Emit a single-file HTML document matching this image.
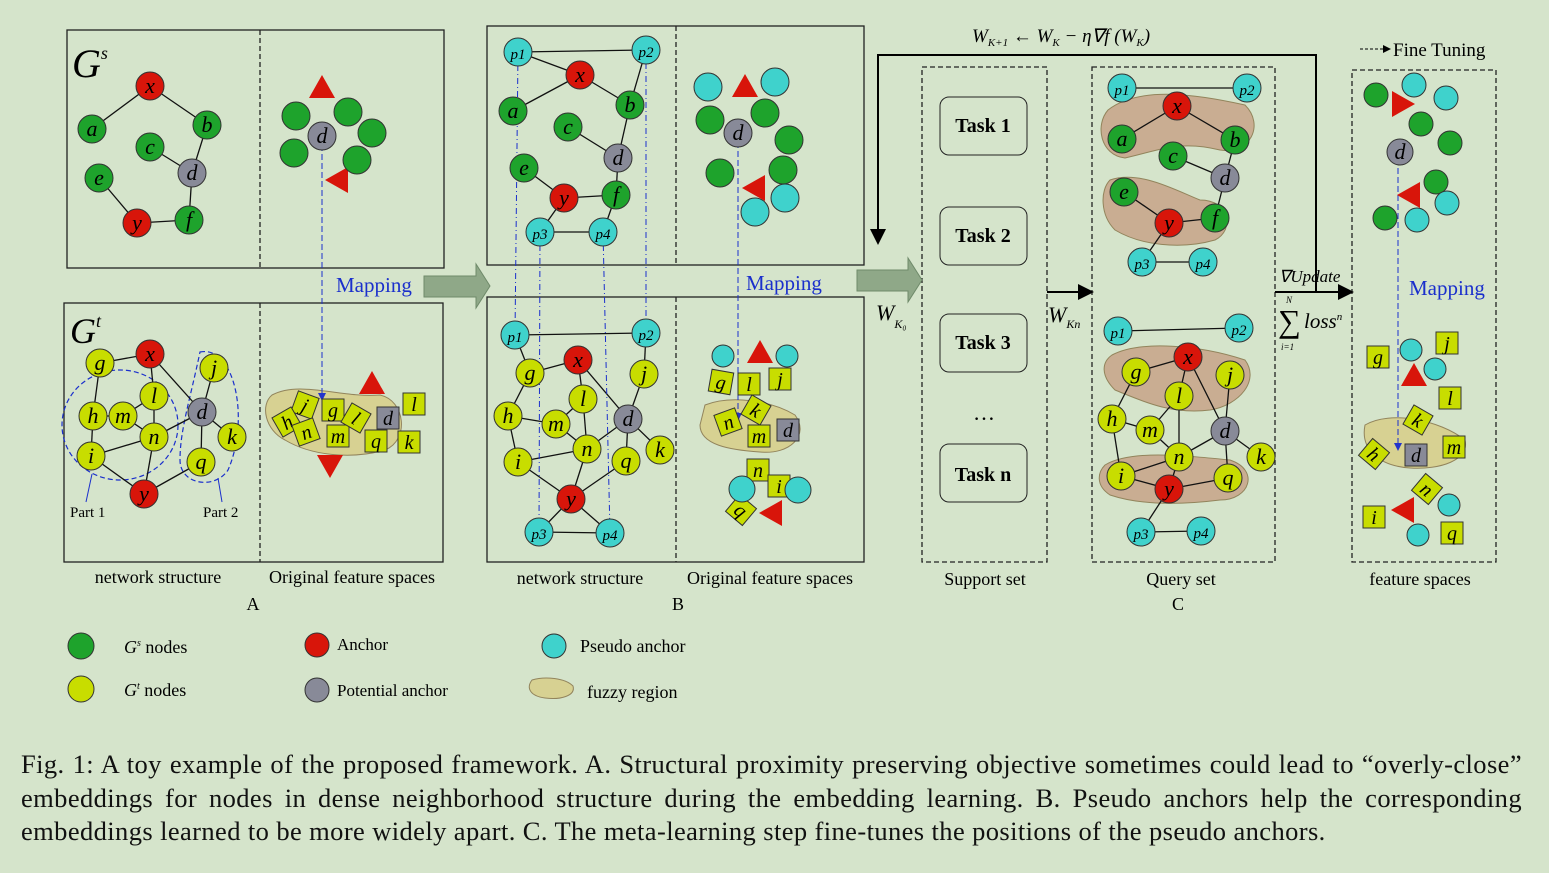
<!DOCTYPE html>
<html><head><meta charset="utf-8">
<style>
html,body{margin:0;padding:0;background:#d5e4cb;}
svg{display:block;font-family:"Liberation Serif",serif;}
.cap{position:absolute;left:21px;width:1501px;font-family:"Liberation Serif",serif;font-size:26.5px;letter-spacing:0.4px;color:#111;line-height:33.5px;top:748px;}
.cap div{text-align:justify;text-align-last:justify;white-space:nowrap;}
.cap div.last{text-align-last:left;}
</style></head>
<body>
<div style="position:relative;width:1549px;height:873px;overflow:hidden;background:#d5e4cb">
<svg id="s" width="1549" height="873" xmlns="http://www.w3.org/2000/svg">
<defs>
<marker id="ah" markerWidth="8" markerHeight="8" refX="7" refY="4" orient="auto"><path d="M0,0L8,4L0,8z" fill="#000"/></marker>
<marker id="bh" markerWidth="8" markerHeight="8" refX="7" refY="4" orient="auto"><path d="M0,0L8,4L0,8z" fill="#2233cc"/></marker>
</defs>
<g fill="none" stroke="#222" stroke-width="1.3">
<rect x="67" y="30" width="377" height="238"/>
<rect x="64" y="303" width="379" height="259"/>
<rect x="487" y="26" width="377" height="239"/>
<rect x="487" y="297" width="377" height="265"/>
<g stroke-dasharray="5,3">
<line x1="260" y1="30" x2="260" y2="268"/><line x1="260" y1="303" x2="260" y2="562"/>
<line x1="676" y1="26" x2="676" y2="265"/><line x1="676" y1="297" x2="676" y2="562"/>
<rect x="922" y="67" width="125" height="495"/>
<rect x="1092" y="67" width="183" height="495"/>
<rect x="1352" y="70" width="144" height="492"/>
</g>
</g>
<path d="M424,276H476V264L490,286L476,308V297H424Z" fill="#8fa888" stroke="#6f8a6a"/>
<path d="M857,270H908V258L922,280L908,302V291H857Z" fill="#8fa888" stroke="#6f8a6a"/>
<path d="M1316,292V55H878V243" fill="none" stroke="#000" stroke-width="2" marker-end="url(#ah)"/>
<line x1="1047" y1="292" x2="1092" y2="292" stroke="#000" stroke-width="2" marker-end="url(#ah)"/>
<line x1="1275" y1="292" x2="1352" y2="292" stroke="#000" stroke-width="2" marker-end="url(#ah)"/>
<line x1="1360" y1="49" x2="1390" y2="49" stroke="#000" stroke-dasharray="3,2" marker-end="url(#ah)"/>
<text x="972" y="42" font-size="19" font-style="italic">W<tspan font-size="11" dy="4">K+1</tspan><tspan dy="-4"> ← W</tspan><tspan font-size="11" dy="4">K</tspan><tspan dy="-4"> − η∇f (W</tspan><tspan font-size="11" dy="4">K</tspan><tspan dy="-4">)</tspan></text>
<text x="1393" y="56" font-size="19">Fine Tuning</text>
<text x="876" y="320" font-size="22" font-style="italic">W<tspan font-size="12" dy="8">K₀</tspan></text>
<text x="1048" y="322" font-size="22" font-style="italic">W<tspan font-size="12" dy="6">Kn</tspan></text>
<text x="1279" y="282" font-size="17" font-style="italic">∇Update</text>
<text x="1278" y="332" font-size="32">∑</text>
<text x="1286" y="303" font-size="9" font-style="italic">N</text><text x="1281" y="350" font-size="9" font-style="italic">i=1</text>
<text x="1304" y="328" font-size="21" font-style="italic">loss<tspan font-size="11" dy="-8">n</tspan></text>
<text x="336" y="292" font-size="21" fill="#1a2fcc">Mapping</text>
<text x="746" y="290" font-size="21" fill="#1a2fcc">Mapping</text>
<text x="1409" y="295" font-size="21" fill="#1a2fcc">Mapping</text>
<text x="72" y="77" font-size="40" font-style="italic">G<tspan font-size="18" dy="-18">s</tspan></text>
<text x="70" y="343" font-size="36" font-style="italic">G<tspan font-size="18" dy="-16">t</tspan></text>
<g font-size="18" text-anchor="middle">
<text x="158" y="583">network structure</text><text x="352" y="583">Original feature spaces</text><text x="253" y="610">A</text>
<text x="580" y="584">network structure</text><text x="770" y="584">Original feature spaces</text><text x="678" y="610">B</text>
<text x="985" y="585">Support set</text><text x="1181" y="585">Query set</text><text x="1178" y="610">C</text><text x="1420" y="585">feature spaces</text>
<text x="984" y="420" font-size="22">…</text>
</g>
<text x="70" y="517" font-size="15">Part 1</text><text x="203" y="517" font-size="15">Part 2</text>
<line x1="92" y1="474" x2="86" y2="502" stroke="#1a2fcc"/><line x1="218" y1="478" x2="222" y2="502" stroke="#1a2fcc"/>
<ellipse cx="120" cy="425" rx="58" ry="55" fill="none" stroke="#1a2fcc" stroke-dasharray="5,3" stroke-width="1.2"/>
<path d="M200,352C235,345 250,420 228,470C215,490 180,485 180,460C180,430 190,400 200,352Z" fill="none" stroke="#1a2fcc" stroke-dasharray="5,3" stroke-width="1.2"/>
<g fill="#c9b98a" stroke="#8b7a50" opacity="0.9">
<path d="M272,395C300,380 340,398 380,395C405,400 410,440 385,450C350,460 310,455 285,440C265,430 260,405 272,395Z" fill="#d8d08c"/>
<path d="M705,405C730,395 770,400 795,415C810,435 790,455 760,452C730,450 700,445 700,425Z" fill="#d8d08c"/>
<path d="M1108,110C1140,85 1200,95 1245,105C1265,125 1250,155 1220,150C1180,140 1160,150 1125,158C1100,155 1095,125 1108,110Z" fill="#c8a88c"/>
<path d="M1110,180C1140,170 1175,190 1200,200C1230,200 1235,230 1215,240C1180,250 1140,245 1115,230C1100,215 1100,190 1110,180Z" fill="#c8a88c"/>
<path d="M1112,355C1140,340 1200,345 1245,360C1260,380 1240,405 1210,410C1170,415 1140,400 1115,390C1100,375 1102,362 1112,355Z" fill="#c8a88c"/>
<path d="M1105,465C1130,450 1180,455 1230,460C1260,470 1250,500 1220,500C1180,505 1140,505 1110,495C1095,485 1098,472 1105,465Z" fill="#c8a88c"/>
<path d="M1365,425C1390,410 1440,420 1465,440C1470,460 1440,470 1410,468C1380,466 1360,450 1365,425Z" fill="#d8d08c"/>
<path d="M532,680C545,676 565,678 573,686C576,696 560,700 545,698C530,696 526,688 532,680Z" fill="#d8d08c"/>
</g>
<g id="edges" stroke="#111" stroke-width="1.3"></g>
<g id="vlines" stroke="#1a2fcc" stroke-width="1" stroke-dasharray="6,3,1,3" fill="none"></g>
<g id="nodes"></g>
<g font-size="20" font-weight="bold" text-anchor="middle">
<rect x="940" y="97" width="87" height="58" rx="9" fill="none" stroke="#222"/><text x="983" y="132">Task 1</text>
<rect x="940" y="207" width="87" height="58" rx="9" fill="none" stroke="#222"/><text x="983" y="242">Task 2</text>
<rect x="940" y="314" width="87" height="58" rx="9" fill="none" stroke="#222"/><text x="983" y="349">Task 3</text>
<rect x="940" y="444" width="87" height="58" rx="9" fill="none" stroke="#222"/><text x="983" y="481">Task n</text>
</g>
<g font-size="18">
<circle cx="81" cy="646" r="13" fill="#1ea32c" stroke="#333"/><text x="124" y="653" font-style="italic">G<tspan font-size="10" dy="-7">s</tspan><tspan dy="7" font-style="normal"> nodes</tspan></text>
<circle cx="81" cy="689" r="13" fill="#c8dd00" stroke="#333"/><text x="124" y="696" font-style="italic">G<tspan font-size="10" dy="-7">t</tspan><tspan dy="7" font-style="normal"> nodes</tspan></text>
<circle cx="317" cy="645" r="12" fill="#d8150a" stroke="#333"/><text x="337" y="650" font-size="17">Anchor</text>
<circle cx="317" cy="690" r="12" fill="#888a98" stroke="#333"/><text x="337" y="696" font-size="17">Potential anchor</text>
<circle cx="554" cy="646" r="12" fill="#3fd2cc" stroke="#333"/><text x="580" y="652">Pseudo anchor</text>
<text x="587" y="698">fuzzy region</text>
</g>
</svg>
<div class="cap">
<div>Fig. 1: A toy example of the proposed framework. A. Structural proximity preserving objective sometimes could lead to “overly-close”</div>
<div>embeddings for nodes in dense neighborhood structure during the embedding learning. B. Pseudo anchors help the corresponding</div>
<div class="last">embeddings learned to be more widely apart. C. The meta-learning step fine-tunes the positions of the pseudo anchors.</div>
</div>
</div>
<script>
const NS="http://www.w3.org/2000/svg";
const C={G:"#1ea32c",T:"#c8dd00",R:"#d8150a",D:"#888a98",P:"#3fd2cc"};
const nodes=document.getElementById('nodes'),edges=document.getElementById('edges'),vl=document.getElementById('vlines');
function circ(x,y,t,l,r){r=r||14;
 const c=document.createElementNS(NS,'circle');c.setAttribute('cx',x);c.setAttribute('cy',y);c.setAttribute('r',r);c.setAttribute('fill',C[t]);c.setAttribute('stroke','#333');
 
 
 nodes.appendChild(c);
 if(l){const s=document.createElementNS(NS,'text');s.setAttribute('x',x);s.setAttribute('y',y+7);s.setAttribute('text-anchor','middle');s.setAttribute('font-style','italic');s.setAttribute('font-size',l.length>1?15:22);s.textContent=l;nodes.appendChild(s);}}
function sq(x,y,l,rot){const g=document.createElementNS(NS,'g');g.setAttribute('transform','translate('+x+','+y+') rotate('+(rot||0)+')');
 
 
 g.innerHTML='<rect x="-11" y="-11" width="22" height="22" fill="'+(l=='d'?C.D:C.T)+'" stroke="#333"/><text y="7" text-anchor="middle" font-size="20" font-style="italic">'+l+'</text>';nodes.appendChild(g);}
function tri(x,y,rot){const p=document.createElementNS(NS,'polygon');p.setAttribute('points',(x-13)+','+(y+10)+' '+(x+13)+','+(y+10)+' '+x+','+(y-13));p.setAttribute('fill','#d8150a');p.setAttribute('transform','rotate('+(rot||0)+' '+x+' '+y+')');
 
 
 nodes.appendChild(p);}
function graph(N,E){for(const [a,b] of E){const l=document.createElementNS(NS,'line');l.setAttribute('x1',N[a][0]);l.setAttribute('y1',N[a][1]);l.setAttribute('x2',N[b][0]);l.setAttribute('y2',N[b][1]);edges.appendChild(l);}
 for(const k in N){circ(N[k][0],N[k][1],N[k][2],k);}}
const sE=[['x','a'],['x','b'],['c','d'],['b','d'],['e','y'],['y','f'],['f','d']];
graph({x:[150,86,'R'],a:[92,129,'G'],b:[207,125,'G'],c:[150,147,'G'],d:[192,173,'D'],e:[99,178,'G'],y:[137,223,'R'],f:[189,220,'G']},sE);
const tE=[['g','x'],['x','l'],['l','m'],['l','n'],['x','d'],['j','d'],['d','k'],['d','n'],['h','m'],['g','h'],['h','i'],['i','n'],['m','n'],['n','y'],['i','y'],['y','q'],['q','d']];
graph({g:[100,363,'T'],x:[150,354,'R'],j:[214,368,'T'],h:[93,416,'T'],m:[123,416,'T'],l:[154,396,'T'],d:[202,412,'D'],k:[232,437,'T'],n:[154,437,'T'],i:[91,456,'T'],q:[201,462,'T'],y:[144,494,'R']},tE);
const bS={x:[580,75,'R'],a:[513,111,'G'],b:[630,105,'G'],c:[568,127,'G'],d:[618,158,'D'],e:[524,168,'G'],y:[564,198,'R'],f:[616,195,'G'],p1:[518,52,'P'],p2:[646,50,'P'],p3:[540,232,'P'],p4:[603,232,'P']};
graph(bS,sE.concat([['p1','p2'],['p1','x'],['p2','b'],['p3','p4'],['p3','y'],['p4','f']]));
const bT={g:[530,373,'T'],x:[578,360,'R'],j:[644,374,'T'],h:[508,416,'T'],m:[556,424,'T'],l:[583,399,'T'],d:[628,419,'D'],k:[660,450,'T'],n:[587,449,'T'],i:[518,462,'T'],q:[626,461,'T'],y:[571,499,'R'],p1:[515,335,'P'],p2:[646,333,'P'],p3:[539,532,'P'],p4:[610,533,'P']};
graph(bT,tE.concat([['p1','p2'],['p1','g'],['p2','j'],['p3','p4'],['p3','y'],['p4','y']]));
const qS={x:[1177,106,'R'],a:[1122,139,'G'],b:[1235,140,'G'],c:[1173,156,'G'],d:[1225,178,'D'],e:[1124,192,'G'],y:[1169,223,'R'],f:[1215,218,'G'],p1:[1122,88,'P'],p2:[1247,88,'P'],p3:[1142,262,'P'],p4:[1203,262,'P']};
graph(qS,sE.concat([['p1','p2'],['p3','p4'],['p3','y']]));
graph({g:[1136,372,'T'],x:[1188,357,'R'],j:[1230,375,'T'],h:[1112,419,'T'],m:[1150,430,'T'],l:[1179,396,'T'],d:[1225,431,'D'],k:[1261,457,'T'],n:[1179,457,'T'],i:[1121,476,'T'],q:[1228,478,'T'],y:[1169,489,'R'],p1:[1118,331,'P'],p2:[1239,328,'P'],p3:[1141,532,'P'],p4:[1201,531,'P']},tE.concat([['p1','p2'],['p3','p4'],['p3','y']]));
[[518,52,515,335],[646,50,646,333],[540,232,539,532],[603,232,610,533]].forEach(v=>{const l=document.createElementNS(NS,'line');l.setAttribute('x1',v[0]);l.setAttribute('y1',v[1]);l.setAttribute('x2',v[2]);l.setAttribute('y2',v[3]);vl.appendChild(l);});
[[322,136,322,400],[738,133,738,420],[1398,150,1398,450]].forEach(v=>{const l=document.createElementNS(NS,'line');l.setAttribute('x1',v[0]);l.setAttribute('y1',v[1]);l.setAttribute('x2',v[2]);l.setAttribute('y2',v[3]);l.setAttribute('stroke-dasharray','6,3');l.setAttribute('marker-end','url(#bh)');vl.appendChild(l);});
tri(322,88);tri(338,180,-90);
[[296,116],[348,112],[372,133],[294,153],[357,160]].forEach(p=>circ(p[0],p[1],'G'));circ(322,136,'D','d');
[['j',305,405,20],['h',287,422,-30],['n',306,432,-20],['g',333,410,0],['m',338,436,0],['l',356,418,30],['d',388,418,0],['q',376,441,0],['l',414,404,0],['k',409,442,0]].forEach(s=>sq(s[1],s[2],s[0],s[3]));
tri(372,384);tri(330,465,180);
[[708,87],[775,82],[785,198],[755,212]].forEach(p=>circ(p[0],p[1],'P'));
[[710,120],[765,113],[789,140],[783,170],[720,173]].forEach(p=>circ(p[0],p[1],'G'));circ(738,133,'D','d');
tri(745,87);tri(755,188,-90);
circ(723,356,'P',null,11);circ(787,356,'P',null,11);tri(760,353);
[['g',721,382,10],['l',749,384,0],['j',780,379,0],['k',756,410,30],['n',728,422,-20],['m',759,436,0],['d',788,430,0],['n',758,470,0],['i',779,486,0],['q',741,510,40]].forEach(s=>sq(s[1],s[2],s[0],s[3]));
circ(742,489,'P',null,13);circ(798,490,'P',null,13);tri(772,513,-90);
[[1376,95],[1421,124],[1450,143],[1436,182],[1385,218]].forEach(p=>circ(p[0],p[1],'G',null,12));
[[1414,85],[1446,98],[1447,203],[1417,220]].forEach(p=>circ(p[0],p[1],'P',null,12));
circ(1400,152,'D','d',13);tri(1402,104,90);tri(1410,195,-90);
[['g',1378,357,0],['j',1447,343,0],['l',1450,398,0],['k',1418,420,30],['m',1454,447,0],['h',1374,454,40],['d',1416,455,0],['n',1427,489,40],['i',1374,517,0],['q',1452,533,0]].forEach(s=>sq(s[1],s[2],s[0],s[3]));
[[1411,350],[1435,369],[1449,505],[1418,535]].forEach(p=>circ(p[0],p[1],'P',null,11));
tri(1414,376);tri(1404,510,-90);
</script>
</body></html>
